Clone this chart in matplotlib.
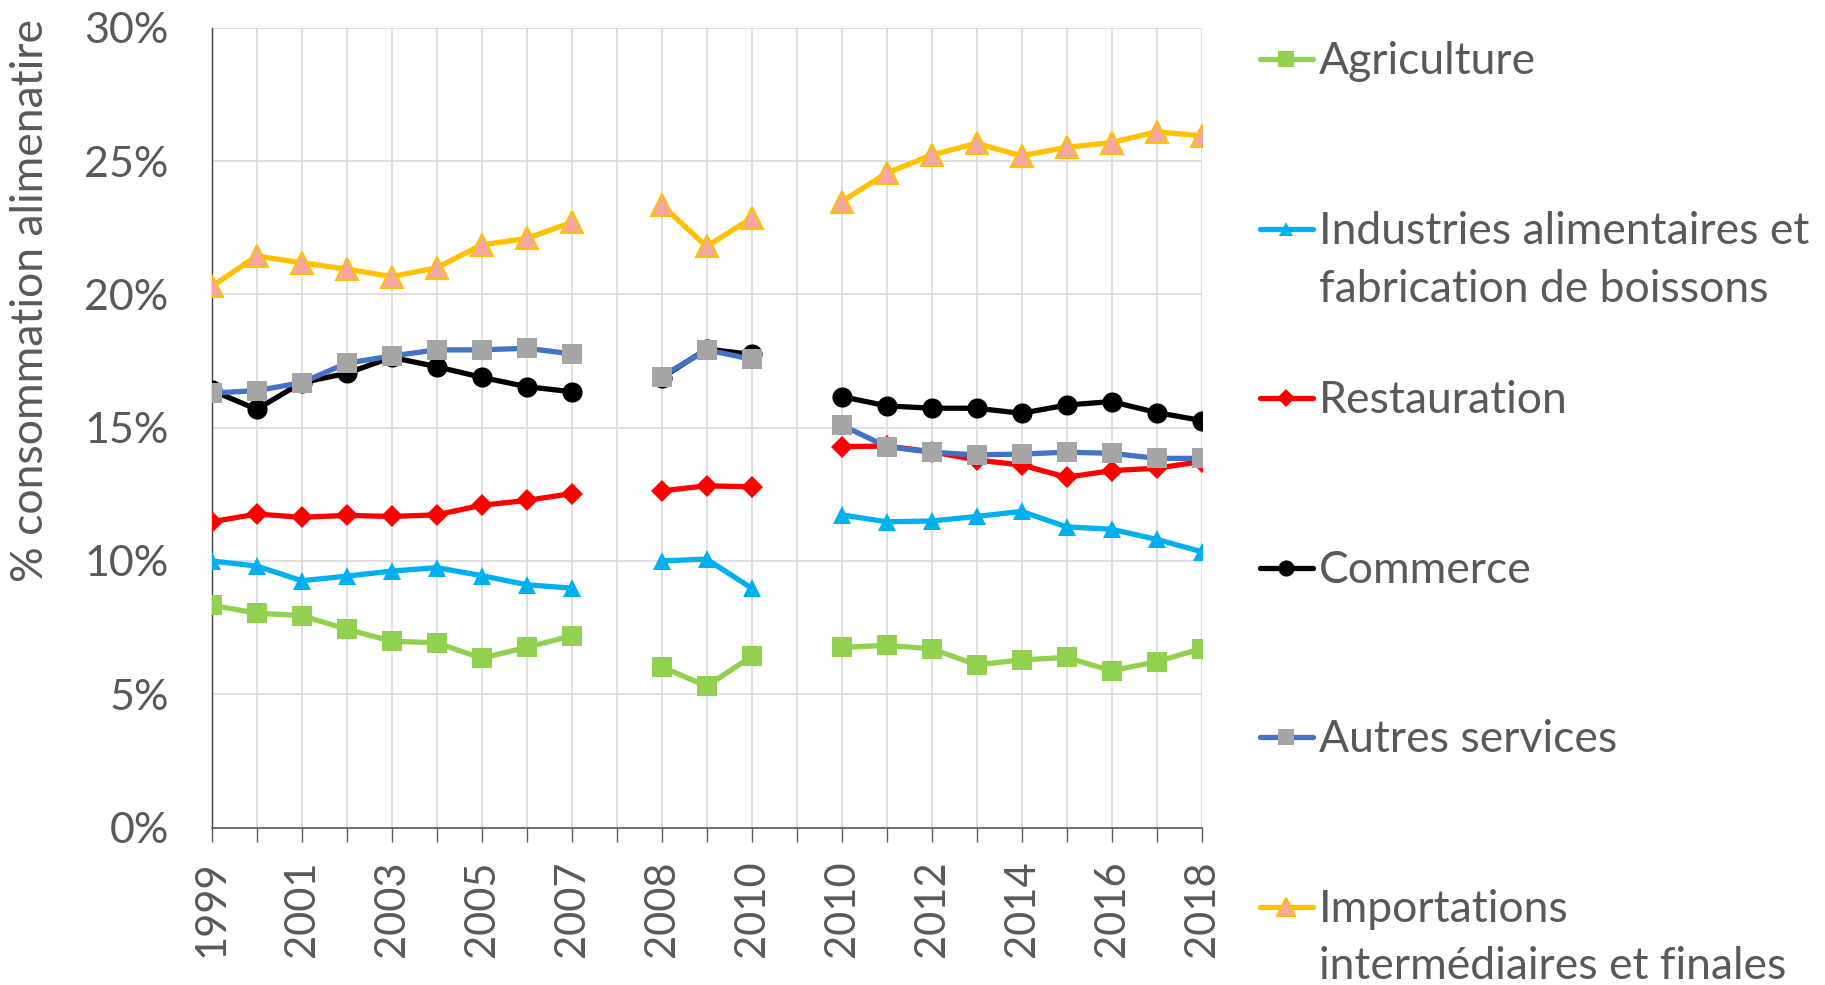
import numpy as np
import matplotlib
matplotlib.use("Agg")
import matplotlib.pyplot as plt
from matplotlib.ticker import PercentFormatter

plt.rcParams['font.family'] = ['Lato', 'DejaVu Sans']

nan = np.nan
categories = ["1999", "2000", "2001", "2002", "2003", "2004", "2005", "2006", "2007", "",
              "2008", "2009", "2010", "",
              "2010", "2011", "2012", "2013", "2014", "2015", "2016", "2017", "2018"]

agriculture = [8.34, 8.04, 7.95, 7.44, 6.99, 6.93, 6.35, 6.76, 7.19, nan,
               6.03, 5.30, 6.42, nan,
               6.76, 6.83, 6.71, 6.10, 6.29, 6.38, 5.88, 6.22, 6.71]
industries = [10.00, 9.81, 9.26, 9.43, 9.62, 9.75, 9.45, 9.11, 8.98, nan,
              10.00, 10.07, 8.98, nan,
              11.73, 11.47, 11.50, 11.67, 11.86, 11.28, 11.19, 10.81, 10.35]
restauration = [11.47, 11.76, 11.64, 11.71, 11.67, 11.73, 12.09, 12.27, 12.53, nan,
                12.63, 12.82, 12.78, nan,
                14.29, 14.31, 14.10, 13.79, 13.60, 13.14, 13.39, 13.48, 13.73]
commerce = [16.40, 15.69, 16.69, 17.04, 17.64, 17.29, 16.89, 16.54, 16.35, nan,
            16.87, 17.95, 17.75, nan,
            16.17, 15.82, 15.73, 15.73, 15.54, 15.85, 15.98, 15.57, 15.27]
autres = [16.30, 16.39, 16.69, 17.42, 17.69, 17.92, 17.92, 17.98, 17.77, nan,
          16.92, 17.92, 17.57, nan,
          15.10, 14.29, 14.08, 13.98, 14.01, 14.08, 14.04, 13.85, 13.85]
importations = [20.30, 21.44, 21.19, 20.95, 20.67, 21.00, 21.86, 22.10, 22.70, nan,
                23.36, 21.80, 22.86, nan,
                23.48, 24.55, 25.23, 25.67, 25.20, 25.52, 25.70, 26.10, 25.95]

labels = ["Agriculture",
          "Industries alimentaires et\nfabrication de boissons",
          "Restauration",
          "Commerce",
          "Autres services",
          "Importations\nintermédiaires et finales"]

styles = [
    dict(color="#92D050", marker="s", ms=15, mfc="#92D050", mec="#92D050", mew=0),
    dict(color="#00B0F0", marker="^", ms=13, mfc="#00B0F0", mec="#00B0F0", mew=0),
    dict(color="#FF0000", marker="D", ms=11, mfc="#FF0000", mec="#FF0000", mew=0),
    dict(color="#000000", marker="o", ms=14.5, mfc="#000000", mec="#000000", mew=0),
    dict(color="#4472C4", marker="s", ms=15, mfc="#A5A5A5", mec="#A5A5A5", mew=0),
    dict(color="#FFC000", marker="^", ms=16, mfc="#F4A6A0", mec="#FFC000", mew=1.5),
]
series = [agriculture, industries, restauration, commerce, autres, importations]

W, H = 1825, 985
fig = plt.figure(figsize=(W / 100, H / 100), dpi=100)
x_left, x_right, y_top, y_bot = 211.7, 1201.5, 27.9, 827.5
ax = fig.add_axes([x_left / W, 1 - y_bot / H, (x_right - x_left) / W, (y_bot - y_top) / H])

x = np.arange(len(categories))
text_col = "#595959"
for vals, st in zip(series, styles):
    ax.plot(x, np.array(vals) / 100.0, lw=3.8, solid_joinstyle="round", zorder=3, **st)

ax.set_xlim(0, len(categories) - 1)
ax.set_ylim(0, 0.30)
ax.set_yticks(np.arange(0, 0.301, 0.05))
ax.yaxis.set_major_formatter(PercentFormatter(1.0, decimals=0))
ax.set_xticks(x)
ax.set_xticklabels([c if i % 2 == 0 else "" for i, c in enumerate(categories)], rotation=90)
ax.grid(True, color="#D9D9D9", lw=1.2, zorder=0)
ax.set_axisbelow(True)
for s in ["top", "right"]:
    ax.spines[s].set_visible(False)
ax.spines["left"].set_color("#404040")
ax.spines["bottom"].set_color("#595959")
ax.spines["left"].set_linewidth(1.0)
ax.spines["bottom"].set_linewidth(1.2)
ax.tick_params(axis="y", length=0, pad=31, labelsize=31, labelcolor=text_col)
ax.tick_params(axis="x", length=10, width=1.0, color="#595959", pad=14, labelsize=30, labelcolor=text_col)

fig.text(31 / W, 1 - 300 / H, "% consommation alimenatire", rotation=90,
         ha="center", va="center", fontsize=32, color=text_col)

# legend (manual, Excel-like even spacing)
lax = fig.add_axes([0, 0, 1, 1])
lax.set_xlim(0, W)
lax.set_ylim(H, 0)
lax.axis("off")
leg_y = [59.4, 229.3, 398.0, 568.0, 736.7, 906.6]
for lab, st, yy in zip(labels, styles, leg_y):
    lax.plot([1260, 1313], [yy, yy], color=st["color"], lw=3.8, solid_capstyle="round")
    lax.plot([1286.5], [yy], linestyle="none", marker=st["marker"], ms=st["ms"] * 0.8,
             mfc=st["mfc"], mec=st["mec"], mew=st["mew"])
    lines = lab.split("\n")
    for k, ln in enumerate(lines):
        lax.text(1319, yy + 15 + 57.5 * k, ln, ha="left", va="baseline",
                 fontsize=32, color=text_col)

fig.savefig("out.png", dpi=100)
